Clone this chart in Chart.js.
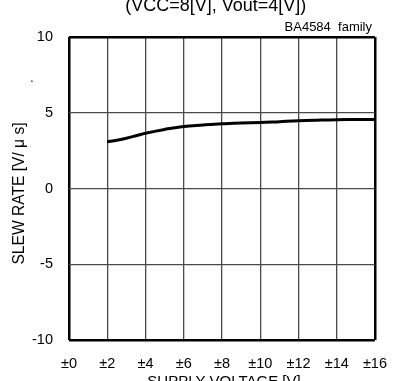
<!DOCTYPE html>
<html>
<head>
<meta charset="utf-8">
<script src="https://cdn.jsdelivr.net/npm/chart.js@4.4.1/dist/chart.umd.min.js"></script>
<style>
  body { margin: 0; background: #fff; }
  canvas { display: block; }
</style>
</head>
<body>
<canvas id="chart" width="402" height="381"></canvas>
<script>
// datos
const supplyV = [2, 2.5, 3, 3.5, 4, 5, 6, 7, 8, 9, 10, 11, 12, 13, 14, 15, 16];
const slewRate = [3.08, 3.19, 3.32, 3.48, 3.65, 3.90, 4.10, 4.19, 4.27, 4.33, 4.35, 4.41, 4.47, 4.51, 4.54, 4.55, 4.56];
const xTicks = [0, 2, 4, 6, 8, 10, 12, 14, 16];
const yTicks = [-10, -5, 0, 5, 10];

const FONT = "'Liberation Sans', Arial, sans-serif";

// textos fuera de los ejes
const extraText = {
    id: 'extraText',
    afterDraw(chart) {
        const ctx = chart.ctx;
        ctx.save();
        ctx.fillStyle = '#000';
        ctx.textBaseline = 'alphabetic';

        ctx.font = '18px ' + FONT;
        ctx.textAlign = 'center';
        ctx.fillText('(VCC=8[V], Vout=4[V])', 215.7, 10.5);

        ctx.font = '13px ' + FONT;
        ctx.textAlign = 'right';
        ctx.fillText('BA4584  family', 372, 31);

        ctx.font = '15px ' + FONT;
        ctx.textAlign = 'center';
        ctx.fillText('SUPPLY VOLTAGE [V]', 224, 385.7);

        ctx.font = '12px ' + FONT;
        ctx.fillText('.', 32, 82);

        ctx.translate(20, 193.5);
        ctx.rotate(-Math.PI / 2);
        ctx.font = '15.6px ' + FONT;
        ctx.textBaseline = 'middle';
        ctx.fillText('SLEW RATE [V/ \u03bc s]', 0, 0);
        ctx.restore();
    }
};

const edgeWidth = (ctx, lo, hi) => (ctx.tick && (ctx.tick.value === lo || ctx.tick.value === hi)) ? 2.5 : 1.3;
const edgeColor = (ctx, lo, hi) => (ctx.tick && (ctx.tick.value === lo || ctx.tick.value === hi)) ? '#000' : '#4a4a4a';

new Chart(document.getElementById('chart'), {
    type: 'line',
    data: {
        datasets: [{
            data: supplyV.map((v, i) => ({ x: v, y: slewRate[i] })),
            borderColor: '#000',
            borderWidth: 3,
            pointRadius: 0,
            tension: 0.4,
            fill: false
        }]
    },
    options: {
        responsive: false,
        animation: false,
        layout: { padding: { top: 37, right: 26.5, left: 0, bottom: 0 } },
        plugins: { legend: { display: false }, tooltip: { enabled: false } },
        scales: {
            x: {
                type: 'linear',
                min: xTicks[0],
                max: xTicks[xTicks.length - 1],
                afterBuildTicks: s => { s.ticks = xTicks.map(v => ({ value: v })); },
                afterFit: s => { s.height = 41; },
                ticks: {
                    color: '#000',
                    font: { family: FONT, size: 14.5 },
                    padding: 15,
                    maxRotation: 0,
                    callback: v => '\u00b1' + v
                },
                grid: {
                    drawTicks: false,
                    color: c => edgeColor(c, 0, 16),
                    lineWidth: c => edgeWidth(c, 0, 16)
                },
                border: { display: false }
            },
            y: {
                min: yTicks[0],
                max: yTicks[yTicks.length - 1],
                afterBuildTicks: s => { s.ticks = yTicks.map(v => ({ value: v })); },
                afterFit: s => { s.width = 69; },
                ticks: {
                    color: '#000',
                    font: { family: FONT, size: 14.5 },
                    padding: 16
                },
                grid: {
                    drawTicks: false,
                    color: c => edgeColor(c, -10, 10),
                    lineWidth: c => edgeWidth(c, -10, 10)
                },
                border: { display: false }
            }
        }
    },
    plugins: [extraText]
});
</script>
</body>
</html>
